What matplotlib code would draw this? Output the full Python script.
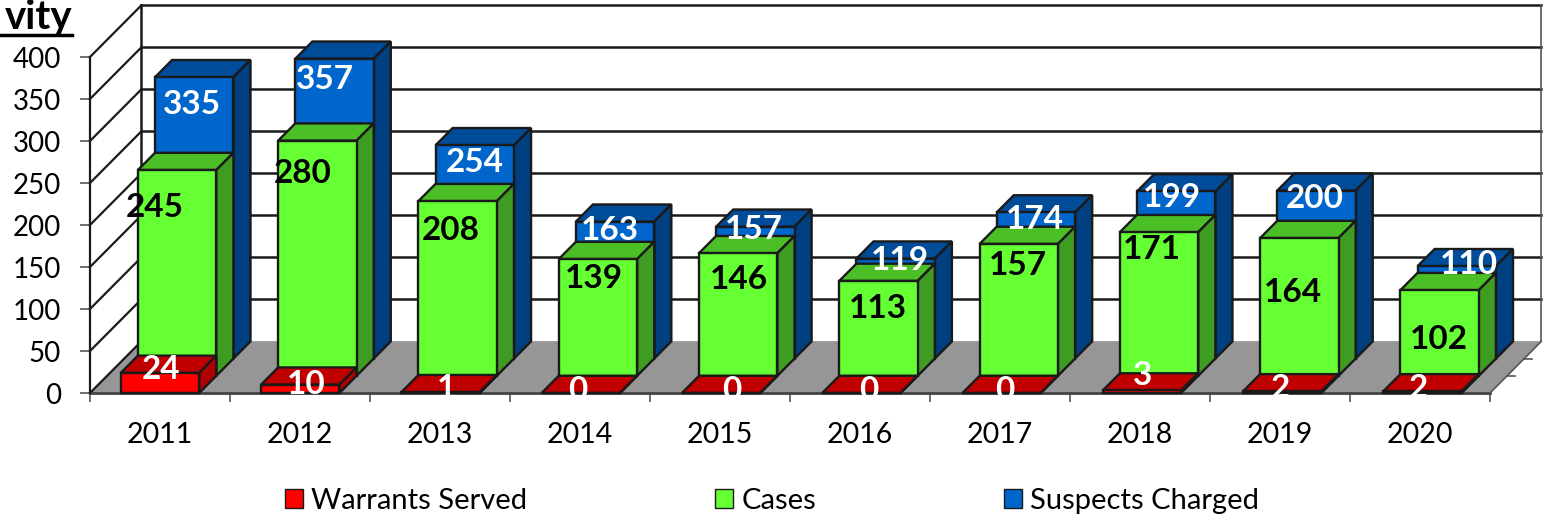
import matplotlib
matplotlib.use("Agg")
import matplotlib.pyplot as plt
from matplotlib.lines import Line2D
from matplotlib.patches import Patch

plt.rcParams['font.family'] = ['Lato', 'DejaVu Sans']

years = ["2011", "2012", "2013", "2014", "2015", "2016", "2017", "2018", "2019", "2020"]
warrants = [24, 10, 1, 0, 0, 0, 0, 3, 2, 2]
cases = [245, 280, 208, 139, 146, 113, 157, 171, 164, 102]
suspects = [335, 357, 254, 163, 157, 119, 174, 199, 200, 110]
y_ticks = [0, 50, 100, 150, 200, 250, 300, 350, 400]

# label offsets from the top of each bar, in pixels
warrants_off = [(1, 6), (6, 3), (6, 6), (-3, 5), (11, 5), (7, 5), (3, 5), (1, 17), (-2, 5), (-4, 5)]
cases_off = [(-22, -35), (-15, -30), (-7, -27), (-4, -17), (1, -24), (-1, -25), (-1, -19), (-7, -15), (-6, -52), (-1, -47)]
suspects_off = [(-2, -25), (-10, -18), (0, -15), (-5, -6), (-1, 0), (4, 1), (-1, -5), (-4, -4), (-2, -5), (12, 4)]

W, H = 1544, 518
# one depth step of the fake 3D box, in data units
DX = 17.1 / 140
DY = 17.2 / 0.84
BAR_START = 0.22
BAR_WIDTH = 0.56
BAR_STEP = 1.002
LINE = '#1a1a1a'

fig = plt.figure(figsize=(W / 100, H / 100), dpi=100)
ax = fig.add_axes([90 / W, (H - 393) / H, 1400 / W, 336 / H])
ax.set_xlim(0, 10)
ax.set_ylim(0, 400)
ax.patch.set_visible(False)


def poly(points, color, z, edge=LINE, lw=1.7):
    ax.fill([p[0] for p in points], [p[1] for p in points], facecolor=color,
            edgecolor=edge, linewidth=lw, clip_on=False, zorder=z, joinstyle='miter')


def bar(i, value, depth, front, top, side, z):
    x0 = i * BAR_STEP + BAR_START + depth * DX
    x1 = x0 + BAR_WIDTH
    y0 = depth * DY
    y1 = y0 + value
    poly([(x0, y1), (x1, y1), (x1 + DX, y1 + DY), (x0 + DX, y1 + DY)], top, z)
    poly([(x1, y0), (x1 + DX, y0 + DY), (x1 + DX, y1 + DY), (x1, y1)], side, z)
    poly([(x0, y0), (x1, y0), (x1, y1), (x0, y1)], front, z)
    return (x0 + x1) / 2, y1


# floor and walls
poly([(0, 0), (3 * DX, 3 * DY), (10 + 3 * DX, 3 * DY), (10, 0)], '#969696', 1, edge='#969696', lw=0.5)
for v in y_ticks[1:]:
    ax.plot([3 * DX, 10 + 3 * DX], [v + 3 * DY] * 2, color=LINE, lw=1.8, clip_on=False, zorder=2)
for v in y_ticks:
    ax.plot([0, 3 * DX], [v, v + 3 * DY], color=LINE, lw=1.6, clip_on=False, zorder=2)
ax.plot([3 * DX, 3 * DX], [3 * DY, 400 + 3 * DY], color=LINE, lw=1.8, clip_on=False, zorder=2)
ax.plot([10 + 3 * DX, 10 + 3 * DX], [3 * DY, 400 + 3 * DY], color='#555555', lw=1.2, clip_on=False, zorder=2)
ax.plot([0, 10], [0, 0], color='#444444', lw=2, clip_on=False, zorder=2)
ax.plot([10, 10 + 3 * DX], [0, 3 * DY], color='#555555', lw=1.2, clip_on=False, zorder=2)
for d in [1, 2]:
    ax.plot([10 + d * DX, 10 + d * DX + 0.055], [d * DY, d * DY], color='#555555', lw=1.2, clip_on=False, zorder=2)

series = [
    (suspects, 2, '#0066CC', '#004C99', '#003F80', 'white', suspects_off, 3),
    (cases, 1, '#66FF33', '#4CBF26', '#3E9C23', 'black', cases_off, 4),
    (warrants, 0, '#FF0000', '#C00000', '#B00000', 'white', warrants_off, 5),
]
for values, depth, front, top, side, text_color, offsets, z in series:
    for i, v in enumerate(values):
        cx, cy = bar(i, v, depth, front, top, side, z)
        ax.annotate(str(v), xy=(cx, cy), xytext=offsets[i], textcoords='offset pixels',
                    ha='center', va='center_baseline', color=text_color, fontsize=24,
                    fontweight='bold', zorder=10, annotation_clip=False)

# axes
for name in ['top', 'right']:
    ax.spines[name].set_visible(False)
ax.spines['left'].set_color(LINE)
ax.spines['left'].set_linewidth(1.6)
ax.spines['bottom'].set_visible(False)
ax.set_yticks(y_ticks)
ax.tick_params(axis='y', length=7, width=1.2, color='#555555', pad=14, labelsize=20)
ax.set_xticks(range(11))
ax.set_xticklabels([])
ax.tick_params(axis='x', which='major', length=6.5, width=1.2, color='#555555')
ax.set_xticks([i + 0.5 for i in range(10)], minor=True)
ax.set_xticklabels(years, minor=True)
ax.tick_params(axis='x', which='minor', length=0, pad=21, labelsize=20.5)

# legend
handles = [Patch(facecolor='#FF0000', edgecolor=LINE, label='Warrants Served'),
           Patch(facecolor='#66FF33', edgecolor=LINE, label='Cases'),
           Patch(facecolor='#0066CC', edgecolor=LINE, label='Suspects Charged')]
fig.legend(handles=handles, loc='center', bbox_to_anchor=(772 / W, (H - 501) / H), ncol=3,
           frameon=False, fontsize=21, handlelength=0.62, handleheight=0.62,
           handletextpad=0.27, columnspacing=6.45, borderpad=0)

# what is left of the cropped title
fig.text(72 / W, (H - 29) / H, "vity", ha='right', va='baseline', fontsize=29, fontweight='bold')
fig.add_artist(Line2D([0, 72 / W], [(H - 35) / H] * 2, color='black', lw=2.5))

fig.savefig("out.png", dpi=100)
